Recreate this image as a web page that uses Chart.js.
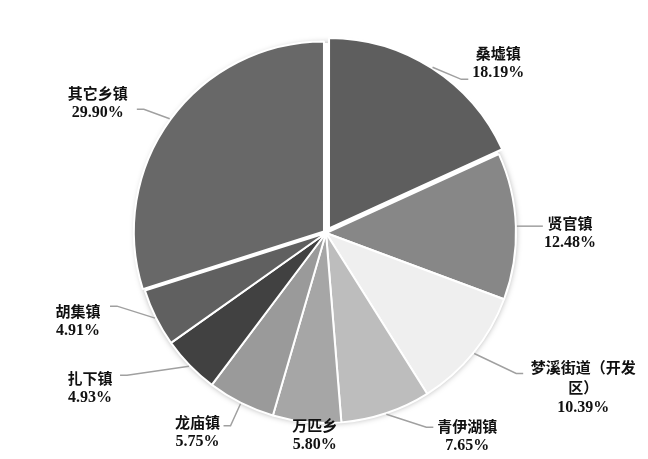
<!DOCTYPE html>
<html>
<head>
<meta charset="utf-8">
<script src="https://cdn.jsdelivr.net/npm/chart.js@4"></script>
<style>
  html, body { margin: 0; padding: 0; background: #fff; }
  #wrap { width: 648px; height: 459px; }
</style>
</head>
<body>
<div id="wrap"><canvas id="pieChart"></canvas></div>
<script>
// ================== Data ==================
const towns = ["桑墟镇", "贤官镇", "梦溪街道（开发区）", "青伊湖镇", "万匹乡", "龙庙镇", "扎下镇", "胡集镇", "其它乡镇"];
const shares = [18.19, 12.48, 10.39, 7.65, 5.80, 5.75, 4.93, 4.91, 29.90];
const sliceColors = ["#5e5e5e", "#878787", "#efefef", "#bdbdbd", "#a6a6a6", "#9a9a9a", "#414141", "#606060", "#686868"];
const sliceOffsets = [22, 0, 0, 0, 0, 0, 0, 0, 10];

// label layout, relative to the point where the slice's mid-angle meets the rim
// [textDx, textDy, leaderDx, leaderDy] (leader null = no line)
const labelLayout = [
  [69, -9, 39, 7],
  [53, 7, 26, 0],
  [109, 34, 49, 20],
  [81, 22, 47, 13],
  [8, 12, null, null],
  [-43, 28, -17, 22],
  [-99, 22, -69, 9],
  [-77, 3, -45, -12],
  [-74, -17, -35, -11],
];

const cjkFont = "bold 15px 'Noto Sans CJK SC', sans-serif";
const numFont = "bold 16px 'Liberation Serif', 'DejaVu Serif', serif";
const lineGap = 20;

// ================== Helpers ==================
function wrapText(ctx, text, maxWidth) {
  const lines = [];
  let cur = "";
  for (const ch of text) {
    if (ctx.measureText(cur + ch).width > maxWidth && cur) {
      lines.push(cur);
      cur = ch;
    } else {
      cur += ch;
    }
  }
  if (cur) lines.push(cur);
  return lines;
}

// same shift Chart.js applies to an exploded arc
function arcShift(offset, circumference) {
  const base = offset / 4;
  const fix = 1 - Math.sin(Math.min(Math.PI, circumference));
  return base * (1 + fix);
}

// ================== Plugins ==================
const pieShadow = {
  id: "pieShadow",
  beforeDatasetsDraw(chart) {
    const arc = chart.getDatasetMeta(0).data[1];
    if (!arc) return;
    const { x, y, outerRadius } = arc.getProps(["x", "y", "outerRadius"], true);
    const ctx = chart.ctx;
    ctx.save();
    ctx.shadowColor = "rgba(0,0,0,0.35)";
    ctx.shadowBlur = 6;
    ctx.fillStyle = "#fff";
    ctx.beginPath();
    ctx.arc(x, y, outerRadius, 0, Math.PI * 2);
    ctx.fill();
    ctx.restore();
  },
};

const outsideLabels = {
  id: "outsideLabels",
  afterDatasetsDraw(chart) {
    const ctx = chart.ctx;
    const meta = chart.getDatasetMeta(0);
    meta.data.forEach((arc, i) => {
      const { x, y, startAngle, endAngle, outerRadius, circumference } =
        arc.getProps(["x", "y", "startAngle", "endAngle", "outerRadius", "circumference"], true);
      const mid = (startAngle + endAngle) / 2;
      const ax = x + Math.cos(mid) * (outerRadius + 1);
      const ay = y + Math.sin(mid) * (outerRadius + 1);
      const [tdx, tdy, ldx, ldy] = labelLayout[i];

      // leader line
      if (ldx !== null) {
        const sh = arcShift(sliceOffsets[i], circumference);
        const sx = ax + Math.cos(mid) * sh;
        const sy = ay + Math.sin(mid) * sh;
        const ex = ax + ldx;
        const ey = ay + ldy;
        const side = tdx > 0 ? 1 : -1;
        ctx.save();
        ctx.strokeStyle = "#a0a0a0";
        ctx.lineWidth = 1.5;
        ctx.beginPath();
        ctx.moveTo(sx, sy);
        ctx.lineTo(ex - side * 7, ey);
        ctx.lineTo(ex, ey);
        ctx.stroke();
        ctx.restore();
      }

      // text block
      ctx.save();
      ctx.font = cjkFont;
      const nameLines = wrapText(ctx, towns[i], 110);
      const lines = nameLines.map((t) => ({ t, f: cjkFont }));
      lines.push({ t: shares[i].toFixed(2) + "%", f: numFont });
      const cx = ax + tdx;
      const cy = ay + tdy;
      const top = cy - ((lines.length - 1) * lineGap) / 2;
      ctx.fillStyle = "#111";
      ctx.textAlign = "center";
      ctx.textBaseline = "middle";
      lines.forEach((ln, k) => {
        ctx.font = ln.f;
        ctx.fillText(ln.t, cx, top + k * lineGap);
      });
      ctx.restore();
    });
  },
};

// ================== Chart ==================
const ctxPie = document.getElementById("pieChart").getContext("2d");
const pieChart = new Chart(ctxPie, {
  type: "pie",
  data: {
    labels: towns,
    datasets: [
      {
        data: shares,
        backgroundColor: sliceColors,
        borderColor: "#ffffff",
        borderWidth: 2,
        offset: sliceOffsets,
      },
    ],
  },
  options: {
    responsive: true,
    maintainAspectRatio: false,
    animation: false,
    radius: 190,
    layout: { padding: { top: 36, bottom: 29, left: 101, right: 97 } },
    plugins: {
      legend: { display: false },
      tooltip: { enabled: false },
    },
  },
  plugins: [pieShadow, outsideLabels],
});
</script>
</body>
</html>
